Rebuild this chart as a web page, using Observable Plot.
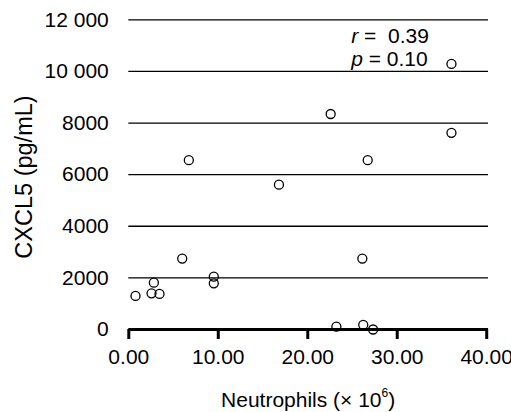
<!DOCTYPE html>
<html><head><meta charset="utf-8">
<script src="https://cdn.jsdelivr.net/npm/d3@7"></script>
<script src="https://cdn.jsdelivr.net/npm/@observablehq/plot@0.6"></script>
<style>
body{margin:0;background:#fff}
svg{font-family:"Liberation Sans",Arial,Helvetica,sans-serif}
</style>
</head><body><div id="chart"></div>
<script>
// Data
const neutrophils = [0.75, 2.54, 2.8, 3.43, 5.97, 9.5, 9.5, 6.71, 16.78, 22.56, 23.2, 26.2, 27.3, 26.1, 26.7, 36.06, 36.06];
const cxcl5 = [1300, 1400, 1815, 1380, 2750, 2046, 1788, 6560, 5610, 8350, 110, 180, 0, 2750, 6560, 10290, 7620];
const xTicks = [0, 10, 20, 30, 40];
const yTicks = [0, 2000, 4000, 6000, 8000, 10000, 12000];
const statLabels = ["r", "p"];
const statValues = ["=  0.39", "= 0.10"];
const xTitle = "Neutrophils (\u00d7 10";
const xTitleSup = "6";
const yTitle = "CXCL5 (pg/mL)";

const data = neutrophils.map((x, i) => ({x, y: cxcl5[i]}));
const yFmt = d => d >= 10000 ? d3.format(",")(d).replace(",", " ") : String(d);

const W = 511, H = 412;
const mL = 128.3, mR = 23, mT = 19.3, mB = 83;
const statDx = 222.4, statDy0 = 8.4, statLine = 22.8;

const statMarks = statLabels.map((s, i) =>
  Plot.text([s + " " + statValues[i]], {text: d => d, frameAnchor: "top-left", textAnchor: "start", lineAnchor: "top",
    dx: statDx, dy: statDy0 + i * statLine, fontSize: 21, fill: "#000"}));

const plot = Plot.plot({
  width: W, height: H,
  marginLeft: mL, marginRight: mR, marginTop: mT, marginBottom: mB,
  style: {fontFamily: "'Liberation Sans', Arial, sans-serif", fontSize: "21px", color: "#000", background: "#fff", overflow: "visible"},
  x: {domain: [0, 40.2], label: null, axis: null},
  y: {domain: [0, 12000], label: null, axis: null},
  marks: [
    Plot.ruleY(yTicks.filter(d => d > 0), {stroke: "#000", strokeWidth: 1.3}),
    Plot.axisY(yTicks, {tickSize: 0, tickPadding: 20, tickFormat: yFmt, fontSize: 21, label: null}),
    Plot.ruleY([0], {stroke: "#000", strokeWidth: 3}),
    Plot.axisX(xTicks, {tickSize: 10, tickPadding: 10, strokeWidth: 3, strokeOpacity: 1, tickFormat: d => d.toFixed(2), fontSize: 21, label: null}),
    Plot.dot(data, {x: "x", y: "y", r: 4.5, stroke: "#000", strokeWidth: 1.3, fill: "none"}),
    ...statMarks
  ]
});

// italic statistic letters
const svg = d3.select(plot);
svg.selectAll("text").each(function() {
  const s = this.textContent;
  const idx = statLabels.findIndex((l, i) => s === l + " " + statValues[i]);
  if (idx >= 0) {
    const t = d3.select(this);
    t.text(null).style("white-space", "pre");
    t.append("tspan").attr("font-style", "italic").text(statLabels[idx]);
    t.append("tspan").text(" " + statValues[idx]);
  }
});

// axis titles
const frameCx = (mL + (W - mR)) / 2;
const xt = svg.append("text").attr("x", frameCx).attr("y", 406.5).attr("text-anchor", "middle")
  .attr("font-size", 21).attr("fill", "#000");
xt.append("tspan").text(xTitle);
xt.append("tspan").attr("font-size", 12).attr("dy", -10).text(xTitleSup);
xt.append("tspan").attr("dy", 10).text(")");

svg.append("text").attr("transform", "translate(32,177) rotate(-90)").attr("text-anchor", "middle")
  .attr("font-size", 23.5).attr("fill", "#000").text(yTitle);

document.getElementById("chart").appendChild(plot);
</script>
</body></html>
